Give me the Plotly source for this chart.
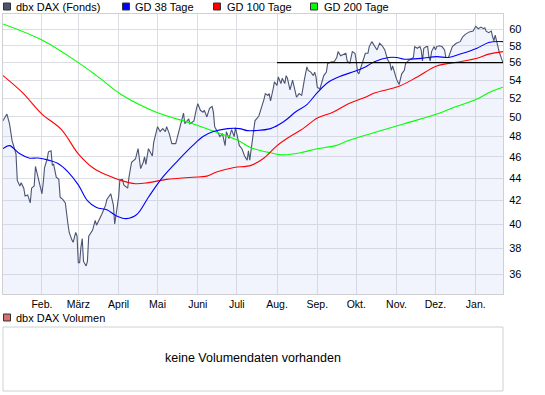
import math
import plotly.graph_objects as go

# ---------------- data ----------------
price_dates = [
    "2009-01-02", "2009-01-05", "2009-01-07", "2009-01-09", "2009-01-12", "2009-01-13", "2009-01-15",
    "2009-01-16", "2009-01-18", "2009-01-19", "2009-01-21", "2009-01-23", "2009-01-24", "2009-01-26",
    "2009-01-27", "2009-01-29", "2009-01-31", "2009-02-01", "2009-02-02", "2009-02-03", "2009-02-05",
    "2009-02-06", "2009-02-08", "2009-02-09", "2009-02-10", "2009-02-12", "2009-02-14", "2009-02-15",
    "2009-02-17", "2009-02-19", "2009-02-21", "2009-02-22", "2009-02-24", "2009-02-25", "2009-02-27",
    "2009-02-28", "2009-03-01", "2009-03-02", "2009-03-03", "2009-03-04", "2009-03-05", "2009-03-07",
    "2009-03-08", "2009-03-09", "2009-03-12", "2009-03-14", "2009-03-15", "2009-03-17", "2009-03-19",
    "2009-03-22", "2009-03-23", "2009-03-26", "2009-03-28", "2009-03-29", "2009-03-30", "2009-04-01",
    "2009-04-02", "2009-04-04", "2009-04-05", "2009-04-08", "2009-04-09", "2009-04-11", "2009-04-14",
    "2009-04-16", "2009-04-18", "2009-04-20", "2009-04-21", "2009-04-22", "2009-04-24", "2009-04-27",
    "2009-04-28", "2009-05-01", "2009-05-03", "2009-05-05", "2009-05-07", "2009-05-08", "2009-05-10",
    "2009-05-12", "2009-05-15", "2009-05-17", "2009-05-19", "2009-05-21", "2009-05-22", "2009-05-25",
    "2009-05-26", "2009-05-29", "2009-05-31", "2009-06-01", "2009-06-03", "2009-06-05", "2009-06-06",
    "2009-06-08", "2009-06-10", "2009-06-12", "2009-06-13", "2009-06-14", "2009-06-16", "2009-06-18",
    "2009-06-20", "2009-06-22", "2009-06-23", "2009-06-25", "2009-06-27", "2009-06-29", "2009-06-30",
    "2009-07-01", "2009-07-03", "2009-07-05", "2009-07-07", "2009-07-09", "2009-07-10", "2009-07-11",
    "2009-07-13", "2009-07-14", "2009-07-15", "2009-07-18", "2009-07-20", "2009-07-22", "2009-07-23",
    "2009-07-25", "2009-07-26", "2009-07-27", "2009-07-29", "2009-07-30", "2009-08-01", "2009-08-02",
    "2009-08-04", "2009-08-05", "2009-08-07", "2009-08-08", "2009-08-09", "2009-08-11", "2009-08-13",
    "2009-08-14", "2009-08-16", "2009-08-18", "2009-08-20", "2009-08-22", "2009-08-24", "2009-08-25",
    "2009-08-27", "2009-08-29", "2009-08-30", "2009-08-31", "2009-09-01", "2009-09-03", "2009-09-04",
    "2009-09-06", "2009-09-08", "2009-09-09", "2009-09-12", "2009-09-14", "2009-09-16", "2009-09-17",
    "2009-09-19", "2009-09-21", "2009-09-23", "2009-09-24", "2009-09-26", "2009-09-28", "2009-09-30",
    "2009-10-01", "2009-10-02", "2009-10-03", "2009-10-05", "2009-10-06", "2009-10-08", "2009-10-10",
    "2009-10-11", "2009-10-13", "2009-10-15", "2009-10-17", "2009-10-19", "2009-10-21", "2009-10-23",
    "2009-10-25", "2009-10-27", "2009-10-28", "2009-10-29", "2009-10-31", "2009-11-01", "2009-11-03",
    "2009-11-04", "2009-11-05", "2009-11-07", "2009-11-08", "2009-11-10", "2009-11-12", "2009-11-14",
    "2009-11-15", "2009-11-17", "2009-11-19", "2009-11-20", "2009-11-21", "2009-11-22", "2009-11-24",
    "2009-11-25", "2009-11-26", "2009-11-27", "2009-11-28", "2009-11-30", "2009-12-01", "2009-12-02",
    "2009-12-04", "2009-12-06", "2009-12-08", "2009-12-09", "2009-12-11", "2009-12-12", "2009-12-14",
    "2009-12-17", "2009-12-20", "2009-12-22", "2009-12-24", "2009-12-27", "2009-12-30", "2010-01-01",
    "2010-01-03", "2010-01-05", "2010-01-07", "2010-01-08", "2010-01-09", "2010-01-11", "2010-01-13",
    "2010-01-14", "2010-01-15", "2010-01-16", "2010-01-17", "2010-01-19", "2010-01-21", "2010-01-22",
]
price_vals = [
    49.6, 50.3, 49.3, 47.6, 46.3, 43.8, 43.3,
    43.6, 43.1, 42.4, 42.5, 41.8, 43.1, 43.3,
    45.1, 44.1, 43.3, 42.6, 43.6, 45.0, 45.8,
    46.5, 46.6, 45.2, 45.3, 44.1, 43.9, 42.3,
    42.1, 41.8, 40.0, 39.3, 38.7, 38.5, 39.3,
    39.0, 36.9, 36.9, 38.1, 38.8, 37.0, 36.65,
    37.0, 39.0, 39.5, 40.3, 39.9, 40.3, 40.8,
    41.6, 42.1, 42.6, 41.6, 40.0, 40.8, 42.3,
    43.85, 43.9, 43.4, 43.1, 44.1, 45.5, 45.8,
    46.8, 44.9, 45.5, 46.0, 45.3, 46.8, 46.1,
    47.4, 49.0, 48.5, 48.8, 48.5, 49.0, 48.3,
    47.3, 47.3, 48.3, 49.6, 50.4, 49.3, 49.8,
    49.3, 49.6, 50.9, 51.4, 50.7, 50.5, 50.7,
    50.0, 50.9, 51.1, 50.5, 49.0, 48.5, 48.0,
    48.3, 47.1, 48.5, 47.8, 48.7, 48.0, 48.9,
    48.2, 47.1, 46.8, 46.1, 45.7, 46.6, 45.7,
    47.4, 48.7, 49.6, 50.1, 50.9, 51.9, 52.5,
    52.3, 52.5, 51.7, 53.0, 53.8, 53.4, 54.35,
    53.6, 54.2, 53.6, 54.5, 54.2, 52.9, 54.0,
    53.4, 52.1, 52.5, 52.3, 54.0, 55.5, 55.1,
    54.9, 54.5, 54.9, 54.35, 53.2, 53.0, 53.6,
    54.5, 54.9, 55.9, 56.1, 56.1, 56.6, 57.3,
    56.8, 57.0, 57.1, 56.2, 55.9, 57.3, 57.1,
    56.2, 54.9, 54.7, 55.6, 56.3, 57.1, 57.1,
    57.9, 58.5, 58.0, 57.5, 58.3, 58.0, 57.5,
    56.4, 55.9, 55.1, 55.6, 54.5, 54.1, 53.5,
    54.1, 54.7, 55.1, 55.9, 56.2, 56.4, 56.6,
    57.9, 57.7, 57.9, 57.5, 56.2, 57.7, 57.9,
    57.9, 56.6, 56.2, 57.3, 57.9, 57.5, 57.9,
    58.0, 57.9, 57.5, 56.6, 56.6, 57.1, 57.9,
    58.3, 58.5, 59.1, 59.4, 59.7, 59.8, 60.4,
    60.1, 60.3, 60.1, 60.2, 59.8, 59.6, 59.8,
    59.1, 58.6, 59.3, 58.5, 57.3, 56.4, 56.0,
]

gd38_dates = [
    "2009-01-02", "2009-01-07", "2009-01-15", "2009-01-22", "2009-01-29", "2009-02-06", "2009-02-13",
    "2009-02-21", "2009-03-01", "2009-03-08", "2009-03-15", "2009-03-23", "2009-03-30", "2009-04-07",
    "2009-04-15", "2009-04-24", "2009-05-05", "2009-05-17", "2009-05-28", "2009-06-05", "2009-06-13",
    "2009-06-24", "2009-07-03", "2009-07-09", "2009-07-15", "2009-07-27", "2009-08-06", "2009-08-16",
    "2009-08-24", "2009-09-01", "2009-09-10", "2009-09-20", "2009-09-30", "2009-10-08", "2009-10-15",
    "2009-10-26", "2009-11-01", "2009-11-07", "2009-11-20", "2009-12-02", "2009-12-11", "2009-12-20",
    "2010-01-02", "2010-01-11", "2010-01-22",
]
gd38_vals = [
    46.8, 47.1, 46.3, 45.9, 45.9, 45.7, 45.4,
    44.6, 43.4, 42.0, 41.4, 41.2, 40.7, 40.45,
    40.8, 42.3, 44.1, 45.7, 47.1, 48.0, 48.5,
    48.8, 48.8, 48.6, 48.6, 48.8, 49.5, 50.6,
    51.3, 52.6, 53.8, 54.5, 55.0, 55.5, 56.1,
    56.6, 56.6, 56.4, 56.5, 56.7, 56.6, 57.0,
    57.7, 58.4, 58.5,
]

gd100_dates = [
    "2009-01-02", "2009-01-17", "2009-02-01", "2009-02-16", "2009-03-01", "2009-03-13", "2009-03-23",
    "2009-04-03", "2009-04-14", "2009-04-24", "2009-05-08", "2009-05-28", "2009-06-08", "2009-06-16",
    "2009-06-29", "2009-07-12", "2009-07-22", "2009-08-01", "2009-08-11", "2009-08-21", "2009-09-01",
    "2009-09-13", "2009-09-25", "2009-10-08", "2009-10-15", "2009-11-03", "2009-11-17", "2009-12-02",
    "2009-12-20", "2010-01-02", "2010-01-11", "2010-01-22",
]
gd100_vals = [
    54.5, 52.6, 50.3, 48.7, 46.3, 44.9, 44.3,
    43.8, 43.5, 43.6, 43.9, 44.1, 44.2, 44.6,
    45.0, 45.2, 45.9, 47.1, 48.0, 48.8, 49.9,
    50.5, 51.4, 52.1, 52.55, 53.3, 54.35, 55.6,
    56.1, 56.5, 57.0, 57.3,
]

gd200_dates = [
    "2009-01-02", "2009-02-01", "2009-03-01", "2009-03-15", "2009-04-03", "2009-04-30", "2009-05-28",
    "2009-06-16", "2009-07-02", "2009-07-12", "2009-07-27", "2009-08-05", "2009-08-19", "2009-09-01",
    "2009-09-15", "2009-09-25", "2009-10-15", "2009-11-07", "2009-12-02", "2009-12-17", "2010-01-02",
    "2010-01-11", "2010-01-22",
]
gd200_vals = [
    60.7, 58.7, 56.0, 54.5, 52.4, 50.5, 49.3,
    48.4, 47.6, 46.9, 46.4, 46.2, 46.4, 46.8,
    47.1, 47.6, 48.4, 49.3, 50.3, 51.1, 51.9,
    52.6, 53.2,
]

level_dates = ["2009-08-01", "2010-01-22"]
level_vals = [56.0, 56.0]

month_ticks = ["2009-02-01", "2009-03-01", "2009-04-01", "2009-05-01", "2009-06-01", "2009-07-01",
               "2009-08-01", "2009-09-01", "2009-10-01", "2009-11-01", "2009-12-01", "2010-01-01"]
month_labels = ["Feb.", "März", "April", "Mai", "Juni", "Juli", "Aug.", "Sep.", "Okt.", "Nov.", "Dez.", "Jan."]
y_ticks = [36, 38, 40, 42, 44, 46, 48, 50, 52, 54, 56, 58, 60]

legend_names = ["dbx DAX (Fonds)", "GD 38 Tage", "GD 100 Tage", "GD 200 Tage"]
volume_name = "dbx DAX Volumen"
volume_note = "keine Volumendaten vorhanden"

# ---------------- styles ----------------
W, H = 545, 395
FONT = "Liberation Sans, Arial, sans-serif"
C_PRICE = "#4b5573"
C_38 = "#0000ff"
C_100 = "#ff0000"
C_200 = "#00ff00"
C_VOL = "#d9706c"
GRID = "#dcdde3"
BORDER = "#cfd0d4"


def px(x):
    return x / W


def py(y):
    return 1 - y / H


fig = go.Figure()
fig.add_trace(go.Scatter(x=price_dates, y=price_vals, mode="lines", fill="tozeroy",
                         fillcolor="rgba(190,205,240,0.22)", line=dict(color=C_PRICE, width=1.1),
                         name=legend_names[0]))
fig.add_trace(go.Scatter(x=gd200_dates, y=gd200_vals, mode="lines", line=dict(color=C_200, width=1.1),
                         line_shape="spline", name=legend_names[3]))
fig.add_trace(go.Scatter(x=gd100_dates, y=gd100_vals, mode="lines", line=dict(color=C_100, width=1.1),
                         line_shape="spline", name=legend_names[2]))
fig.add_trace(go.Scatter(x=gd38_dates, y=gd38_vals, mode="lines", line=dict(color=C_38, width=1.1),
                         line_shape="spline", name=legend_names[1]))
fig.add_trace(go.Scatter(x=level_dates, y=level_vals, mode="lines", line=dict(color="#000000", width=1.3),
                         showlegend=False))

y_top, y_bot = 14, 294
fig.update_layout(
    width=W, height=H, margin=dict(l=0, r=0, t=0, b=0),
    paper_bgcolor="white", plot_bgcolor="white", showlegend=False,
    font=dict(family=FONT, size=11, color="#000000"),
    xaxis=dict(type="date", range=["2009-01-02", "2010-01-22"], domain=[px(3), px(503)],
               tickvals=month_ticks, ticktext=month_labels, showgrid=True, gridcolor=GRID, gridwidth=1,
               showline=True, linecolor=BORDER, linewidth=1, mirror=True, ticks="", zeroline=False,
               tickfont=dict(size=10.5, family=FONT, color="#000000"), fixedrange=True),
    yaxis=dict(type="log", range=[math.log10(34.57), math.log10(61.97)], domain=[py(y_bot), py(y_top)],
               side="right", tickvals=y_ticks, ticktext=[str(v) for v in y_ticks], showgrid=True,
               gridcolor=GRID, gridwidth=1, showline=True, linecolor=BORDER, linewidth=1, mirror=True,
               ticks="", ticklabelstandoff=3, zeroline=False,
               tickfont=dict(size=11, family=FONT, color="#000000"), fixedrange=True),
)

# legend (top)
legend_colors = [C_PRICE, C_38, C_100, C_200]
sq_x = [3.5, 122.5, 213.5, 310.5]
txt_x = [14, 133, 224.5, 322]
shapes = []
annotations = []
for name, col, sx, tx in zip(legend_names, legend_colors, sq_x, txt_x):
    shapes.append(dict(type="rect", xref="paper", yref="paper", x0=px(sx), x1=px(sx + 7),
                       y0=py(10), y1=py(3), fillcolor=col, line=dict(color="#333333", width=1)))
    annotations.append(dict(xref="paper", yref="paper", x=px(tx), y=py(6.8), text=name, showarrow=False,
                            xanchor="left", yanchor="middle", font=dict(size=11, family=FONT, color="#000000")))

# volume panel
shapes.append(dict(type="rect", xref="paper", yref="paper", x0=px(3.5), x1=px(10.5), y0=py(321), y1=py(314),
                   fillcolor=C_VOL, line=dict(color="#333333", width=1)))
annotations.append(dict(xref="paper", yref="paper", x=px(14), y=py(317.5), text=volume_name, showarrow=False,
                        xanchor="left", yanchor="middle", font=dict(size=11, family=FONT, color="#000000")))
shapes.append(dict(type="rect", xref="paper", yref="paper", x0=px(3), x1=px(503), y0=py(391), y1=py(327),
                   line=dict(color=BORDER, width=1), fillcolor="rgba(0,0,0,0)"))
annotations.append(dict(xref="paper", yref="paper", x=px(253), y=py(357.5), text=volume_note, showarrow=False,
                        xanchor="center", yanchor="middle", font=dict(size=12.5, family=FONT, color="#000000")))

fig.update_layout(shapes=shapes, annotations=annotations)
fig.write_html("out.html", config={"displayModeBar": False},
               post_script="document.body.style.margin='0px';document.body.style.padding='0px';")
